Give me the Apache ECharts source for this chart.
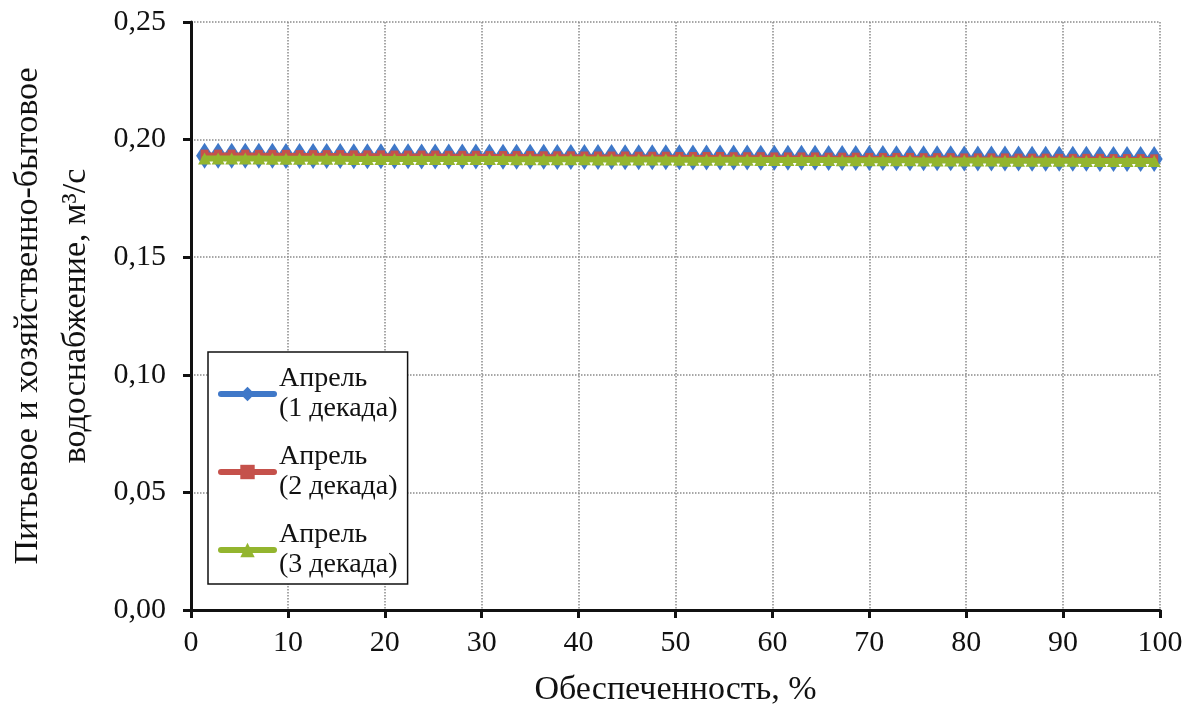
<!DOCTYPE html>
<html>
<head>
<meta charset="utf-8">
<script src="https://cdn.jsdelivr.net/npm/echarts@6/dist/echarts.min.js"></script>
<style>
html,body{margin:0;padding:0;background:#fff;}
#chart{width:1186px;height:718px;}
</style>
</head>
<body>
<div id="chart"></div>
<script>
// Обеспеченность, %
const probability = [1.4, 2.8, 4.2, 5.6, 7.0, 8.4, 9.8, 11.2, 12.6, 14.0, 15.4, 16.8, 18.2, 19.6, 21.0, 22.4, 23.8, 25.2, 26.6, 28.0, 29.4, 30.8, 32.2, 33.6, 35.0, 36.4, 37.8, 39.2, 40.6, 42.0, 43.4, 44.8, 46.2, 47.6, 49.0, 50.4, 51.8, 53.2, 54.6, 56.0, 57.4, 58.8, 60.2, 61.6, 63.0, 64.4, 65.8, 67.2, 68.6, 70.0, 71.4, 72.8, 74.2, 75.6, 77.0, 78.4, 79.8, 81.2, 82.6, 84.0, 85.4, 86.8, 88.2, 89.6, 91.0, 92.4, 93.8, 95.2, 96.6, 98.0, 99.4];

// Апрель (1 декада)
const april1 = [0.1931, 0.1931, 0.1931, 0.1931, 0.1931, 0.1931,
  0.1930, 0.1930, 0.1930, 0.1930, 0.1930,
  0.1929, 0.1929, 0.1929, 0.1929, 0.1929,
  0.1928, 0.1928, 0.1928, 0.1928, 0.1928,
  0.1927, 0.1927, 0.1927, 0.1927, 0.1927,
  0.1926, 0.1926, 0.1926, 0.1926, 0.1926,
  0.1925, 0.1925, 0.1925, 0.1925, 0.1925,
  0.1924, 0.1924, 0.1924, 0.1924, 0.1924,
  0.1923, 0.1923, 0.1923, 0.1923, 0.1923,
  0.1922, 0.1922, 0.1922, 0.1922, 0.1922,
  0.1921, 0.1921, 0.1921, 0.1921, 0.1921,
  0.1920, 0.1920, 0.1920, 0.1920, 0.1920,
  0.1919, 0.1919, 0.1919, 0.1919, 0.1919,
  0.1918, 0.1918, 0.1918, 0.1918, 0.1918];

// Апрель (2 декада)
const april2 = [0.1934, 0.1934, 0.1934, 0.1934,
  0.1933, 0.1933, 0.1933,
  0.1932, 0.1932, 0.1932, 0.1932,
  0.1931, 0.1931, 0.1931,
  0.1930, 0.1930, 0.1930, 0.1930,
  0.1929, 0.1929, 0.1929,
  0.1928, 0.1928, 0.1928, 0.1928,
  0.1927, 0.1927, 0.1927,
  0.1926, 0.1926, 0.1926, 0.1926,
  0.1925, 0.1925, 0.1925,
  0.1924, 0.1924, 0.1924, 0.1924,
  0.1923, 0.1923, 0.1923,
  0.1922, 0.1922, 0.1922, 0.1922,
  0.1921, 0.1921, 0.1921,
  0.1920, 0.1920, 0.1920, 0.1920,
  0.1919, 0.1919, 0.1919,
  0.1918, 0.1918, 0.1918, 0.1918,
  0.1917, 0.1917, 0.1917,
  0.1916, 0.1916, 0.1916, 0.1916,
  0.1915, 0.1915, 0.1915,
  0.1914];

// Апрель (3 декада)
const april3 = [0.1920, 0.1920, 0.1920, 0.1920, 0.1920,
  0.1919, 0.1919, 0.1919, 0.1919, 0.1919, 0.1919,
  0.1918, 0.1918, 0.1918, 0.1918, 0.1918, 0.1918,
  0.1917, 0.1917, 0.1917, 0.1917, 0.1917, 0.1917,
  0.1916, 0.1916, 0.1916, 0.1916, 0.1916, 0.1916,
  0.1915, 0.1915, 0.1915, 0.1915, 0.1915, 0.1915,
  0.1914, 0.1914, 0.1914, 0.1914, 0.1914, 0.1914,
  0.1913, 0.1913, 0.1913, 0.1913, 0.1913, 0.1913,
  0.1912, 0.1912, 0.1912, 0.1912, 0.1912, 0.1912,
  0.1911, 0.1911, 0.1911, 0.1911, 0.1911, 0.1911,
  0.1910, 0.1910, 0.1910, 0.1910, 0.1910, 0.1910,
  0.1909, 0.1909, 0.1909, 0.1909, 0.1909, 0.1909];

const seriesNames = ['Апрель (1 декада)', 'Апрель (2 декада)', 'Апрель (3 декада)'];
const yTickLabels = ['0,00', '0,05', '0,10', '0,15', '0,20', '0,25'];
const xTickLabels = ['0', '10', '20', '30', '40', '50', '60', '70', '80', '90', '100'];
const xTitle = 'Обеспеченность, %';
const yTitle = 'Питьевое и хозяйственно-бытовое\nводоснабжение, м³/с';

const FONT = "'Liberation Serif', 'Times New Roman', serif";
const pair = (ys) => probability.map((x, i) => [x, ys[i]]);

const chart = echarts.init(document.getElementById('chart'), null, {renderer: 'canvas'});
chart.setOption({
  backgroundColor: '#ffffff',
  animation: false,
  grid: {left: 191, right: 26, top: 22, bottom: 108, containLabel: false, outerBoundsMode: 'none'},
  xAxis: {
    type: 'value', min: 0, max: 100, interval: 10,
    name: xTitle, nameLocation: 'middle', nameGap: 63,
    nameTextStyle: {fontFamily: FONT, fontSize: 34, color: '#111'},
    axisLine: {show: true, onZero: false, lineStyle: {color: '#111', width: 3}},
    axisTick: {show: true, length: 8, lineStyle: {color: '#111', width: 3}},
    axisLabel: {
      margin: 18, fontFamily: FONT, fontSize: 30, color: '#111',
      formatter: (v) => xTickLabels[Math.round(v / 10)]
    },
    splitLine: {show: true, lineStyle: {color: '#8a8a8a', width: 1.5, type: 'dotted'}}
  },
  yAxis: {
    type: 'value', min: 0, max: 0.25, interval: 0.05,
    name: yTitle, nameLocation: 'middle', nameGap: 91, nameRotate: 90,
    nameTextStyle: {fontFamily: FONT, fontSize: 34, color: '#111', lineHeight: 48, align: 'center'},
    axisLine: {show: true, onZero: false, lineStyle: {color: '#111', width: 3}},
    axisTick: {show: true, length: 8, lineStyle: {color: '#111', width: 3}},
    axisLabel: {
      margin: 25, fontFamily: FONT, fontSize: 30, color: '#111',
      formatter: (v) => yTickLabels[Math.round(v / 0.05)]
    },
    splitLine: {show: true, lineStyle: {color: '#8a8a8a', width: 1.5, type: 'dotted'}}
  },
  legend: {
    show: true, orient: 'vertical', left: 208, top: 352,
    padding: [13, 10, 5, 10],
    backgroundColor: '#ffffff', borderColor: '#111', borderWidth: 1.5,
    itemGap: 20, itemWidth: 53, itemHeight: 18,
    data: seriesNames,
    lineStyle: {width: 6, cap: 'round'},
    formatter: (name) => name.replace(' (', '\n('),
    textStyle: {fontFamily: FONT, fontSize: 28, color: '#111', lineHeight: 30, padding: [0, 0, -30, 0]}
  },
  series: [
    {
      name: seriesNames[0], type: 'line', data: pair(april1),
      symbol: 'diamond', symbolSize: [17, 26],
      itemStyle: {color: '#3F78C8'},
      lineStyle: {color: '#3F78C8', width: 5, cap: 'round'},
      z: 2
    },
    {
      name: seriesNames[1], type: 'line', data: pair(april2),
      symbol: 'rect', symbolSize: [8, 11],
      itemStyle: {color: '#C5514B'},
      lineStyle: {color: '#C5514B', width: 5, cap: 'round'},
      z: 3
    },
    {
      name: seriesNames[2], type: 'line', data: pair(april3),
      symbol: 'triangle', symbolSize: [13, 12],
      itemStyle: {color: '#93B52E'},
      lineStyle: {color: '#93B52E', width: 6, cap: 'round'},
      z: 4
    }
  ]
});
</script>
</body>
</html>
